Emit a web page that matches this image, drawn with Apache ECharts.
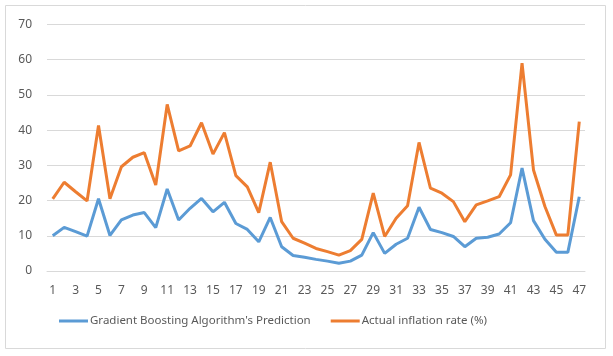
<!doctype html>
<html>
<head>
<meta charset="utf-8">
<title>Inflation prediction</title>
<style>
  html, body { margin: 0; padding: 0; background: #fff; }
  #main { width: 613px; height: 356px; }
</style>
</head>
<body>
<div id="main"></div>
<script src="https://cdn.jsdelivr.net/npm/echarts@6/dist/echarts.min.js"></script>
<script>
var categories = [];
for (var i = 1; i <= 47; i++) categories.push(String(i));

var predicted = [10.0, 12.4, 11.2, 9.9, 20.5, 10.1, 14.5, 15.9, 16.6, 12.3,
                 23.3, 14.5, 17.8, 20.6, 16.8, 19.5, 13.5, 11.8, 8.3, 15.2,
                 6.9, 4.4, 3.9, 3.3, 2.8, 2.2, 2.8, 4.5, 10.9, 5.0,
                 7.6, 9.3, 18.1, 11.8, 10.9, 9.8, 6.9, 9.3, 9.6, 10.5,
                 13.7, 29.2, 14.3, 9.0, 5.3, 5.3, 21.1];

var actual = [20.5, 25.2, 22.5, 19.9, 41.3, 20.5, 29.6, 32.3, 33.6, 24.4,
              47.3, 34.1, 35.5, 42.1, 33.2, 39.3, 27.1, 23.9, 16.6, 30.9,
              14.0, 9.3, 7.9, 6.4, 5.5, 4.5, 5.8, 9.0, 22.1, 9.8,
              15.0, 18.5, 36.5, 23.5, 22.1, 19.7, 14.0, 18.8, 19.9, 21.1,
              27.3, 59.0, 28.7, 18.3, 10.2, 10.2, 42.4];

var seriesNames = ["Gradient Boosting Algorithm's Prediction", 'Actual inflation rate (%)'];

var chart = echarts.init(document.getElementById('main'));

chart.setOption({
    animation: false,
    textStyle: { fontFamily: 'Noto Sans', color: '#595959' },
    graphic: [{
        type: 'rect',
        shape: { x: 5.5, y: 5.5, width: 600, height: 343 },
        style: { fill: 'none', stroke: '#d9d9d9', lineWidth: 1 }
    }],
    grid: { left: 47, right: 28, top: 24.5, bottom: 85 },
    legend: {
        bottom: 24,
        left: 54,
        icon: 'rect',
        itemWidth: 29,
        itemHeight: 3,
        itemGap: 20,
        textStyle: { fontSize: 11.5, color: '#595959', fontFamily: 'Noto Sans', padding: [0, 0, 0, -3] },
        data: seriesNames
    },
    xAxis: {
        type: 'category',
        data: categories,
        boundaryGap: true,
        axisLine: { lineStyle: { color: '#d9d9d9' } },
        axisTick: { show: false },
        axisLabel: { interval: 1, color: '#595959', fontSize: 12, margin: 14 }
    },
    yAxis: {
        type: 'value',
        min: 0,
        max: 70,
        interval: 10,
        axisLine: { show: false },
        axisTick: { show: false },
        axisLabel: { color: '#595959', fontSize: 12, margin: 15 },
        splitLine: { lineStyle: { color: '#d9d9d9', width: 1 } }
    },
    series: [{
        name: seriesNames[0],
        type: 'line',
        data: predicted,
        symbol: 'none',
        lineStyle: { color: '#5b9bd5', width: 3 },
        itemStyle: { color: '#5b9bd5' }
    }, {
        name: seriesNames[1],
        type: 'line',
        data: actual,
        symbol: 'none',
        lineStyle: { color: '#ed7d31', width: 3 },
        itemStyle: { color: '#ed7d31' }
    }]
});

window.addEventListener('resize', function () {
    chart.resize();
});
</script>
</body>
</html>
